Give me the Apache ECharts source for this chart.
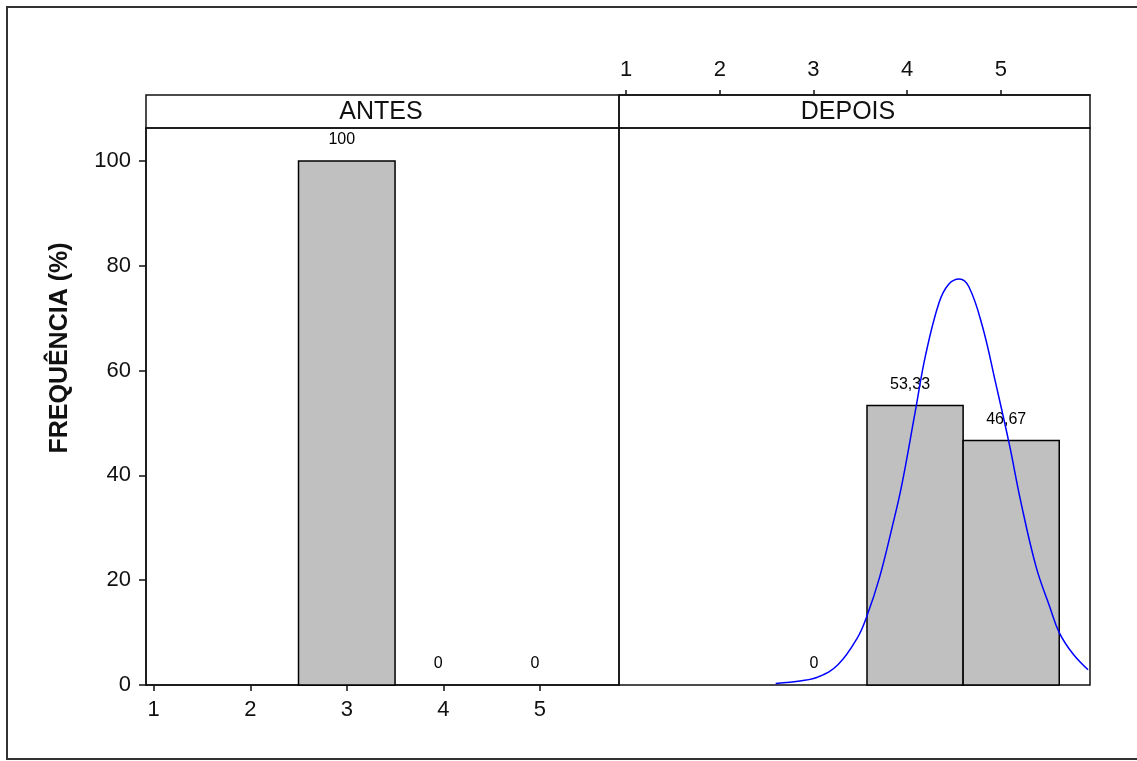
<!DOCTYPE html>
<html>
<head>
<meta charset="utf-8">
<script src="https://cdn.jsdelivr.net/npm/echarts@6/dist/echarts.min.js"></script>
<style>
html,body{margin:0;padding:0;background:#fff;}
#chart{width:1137px;height:761px;}
</style>
</head>
<body>
<div id="chart"></div>
<script>
// ---- data ----
const panelNames = ['ANTES', 'DEPOIS'];
const tickValues = [1, 2, 3, 4, 5];
const yTickValues = [0, 20, 40, 60, 80, 100];
const antesX = [3, 4, 5];
const antesY = [100, 0, 0];
const depoisX = [3, 4, 5];
const depoisY = [0, 53.33, 46.67];
// normal curve (DEPOIS)
const curveX = [2.55, 2.82, 3.0, 3.2, 3.4, 3.5, 3.63, 3.76, 3.86, 4.0, 4.11, 4.25, 4.35, 4.46, 4.56, 4.7, 4.84, 4.98, 5.1, 5.26, 5.4, 5.5, 5.64, 5.8];
const curveY = [0.3, 0.8, 1.6, 3.9, 9.0, 13.2, 20.5, 30, 38, 52, 63, 73, 76.5, 77.5, 76, 68.5, 57.5, 46, 35, 22.5, 15, 10, 6, 2.9];

const FONT = "'Liberation Sans', Arial, sans-serif";
const fmt = v => String(v).replace('.', ',');

function barRender(params, api) {
  const x = api.value(0), y = api.value(1);
  const p0 = api.coord([x - 0.5, 0]);
  const p1 = api.coord([x + 0.5, y]);
  const children = [];
  if (y > 0) {
    children.push({
      type: 'rect',
      shape: { x: p0[0], y: p1[1], width: p1[0] - p0[0], height: p0[1] - p1[1] },
      style: { fill: '#c0c0c0', stroke: '#000', lineWidth: 1.5 }
    });
  }
  children.push({
    type: 'text',
    x: (p0[0] + p1[0]) / 2 - 5,
    y: p1[1] - 21,
    style: { text: fmt(y), fill: '#000', fontSize: 16, fontFamily: FONT, align: 'center', verticalAlign: 'middle' }
  });
  return { type: 'group', children };
}

const chart = echarts.init(document.getElementById('chart'));
const axisLine = { show: true, lineStyle: { color: '#111', width: 1.5 } };
const option = {
  animation: false,
  backgroundColor: '#fff',
  grid: [
    { left: 146, top: 128, width: 473, height: 557, show: true, borderColor: '#111', borderWidth: 1.5, backgroundColor: 'transparent' },
    { left: 619, top: 128, width: 471, height: 557, show: true, borderColor: '#111', borderWidth: 1.5, backgroundColor: 'transparent' }
  ],
  xAxis: [
    {
      type: 'value', gridIndex: 0, position: 'bottom', min: 0.92, max: 5.82,
      axisLine: axisLine,
      axisTick: { show: true, length: 6, customValues: tickValues, lineStyle: { color: '#111', width: 1.5 } },
      axisLabel: { customValues: tickValues, margin: 14, fontSize: 22, color: '#111', fontFamily: FONT },
      splitLine: { show: false }
    },
    {
      type: 'value', gridIndex: 1, position: 'bottom', min: 0.92, max: 5.82,
      axisLine: { show: false }, axisTick: { show: false }, axisLabel: { show: false }, splitLine: { show: false }
    },
    {
      type: 'value', gridIndex: 1, position: 'top', offset: 33, min: 0.925, max: 5.95,
      axisLine: axisLine,
      axisTick: { show: true, length: 5, customValues: tickValues, lineStyle: { color: '#111', width: 1.5 } },
      axisLabel: { customValues: tickValues, margin: 14, fontSize: 22, color: '#111', fontFamily: FONT },
      splitLine: { show: false }
    }
  ],
  yAxis: [
    {
      type: 'value', gridIndex: 0, min: 0, max: 106.3,
      axisLine: axisLine,
      axisTick: { show: true, length: 7, customValues: yTickValues, lineStyle: { color: '#111', width: 1.5 } },
      axisLabel: { customValues: yTickValues, margin: 15, fontSize: 22, color: '#111', fontFamily: FONT },
      splitLine: { show: false }
    },
    {
      type: 'value', gridIndex: 1, min: 0, max: 106.3,
      axisLine: { show: false }, axisTick: { show: false }, axisLabel: { show: false }, splitLine: { show: false }
    }
  ],
  series: [
    {
      type: 'custom', name: panelNames[0], xAxisIndex: 0, yAxisIndex: 0,
      renderItem: barRender, data: antesX.map((x, i) => [x, antesY[i]]), z: 3
    },
    {
      type: 'custom', name: panelNames[1], xAxisIndex: 1, yAxisIndex: 1,
      renderItem: barRender, data: depoisX.map((x, i) => [x, depoisY[i]]), z: 3
    },
    {
      type: 'line', xAxisIndex: 1, yAxisIndex: 1, smooth: 0.4, symbol: 'none',
      data: curveX.map((x, i) => [x, curveY[i]]),
      lineStyle: { color: '#0000ff', width: 1.5 }, z: 4
    }
  ],
  graphic: [
    { type: 'rect', z: 0, shape: { x: 7, y: 7, width: 1150, height: 752 }, style: { fill: 'none', stroke: '#333', lineWidth: 2 } },
    { type: 'rect', z: 10, shape: { x: 146, y: 95, width: 473, height: 33 }, style: { fill: 'none', stroke: '#111', lineWidth: 1.5 } },
    { type: 'rect', z: 10, shape: { x: 619, y: 95, width: 471, height: 33 }, style: { fill: 'none', stroke: '#111', lineWidth: 1.5 } },
    { type: 'text', z: 10, x: 381, y: 112, style: { text: panelNames[0], fontSize: 25, fontFamily: FONT, fill: '#111', align: 'center', verticalAlign: 'middle' } },
    { type: 'text', z: 10, x: 848, y: 112, style: { text: panelNames[1], fontSize: 25, fontFamily: FONT, fill: '#111', align: 'center', verticalAlign: 'middle' } },
    { type: 'text', z: 10, x: 60, y: 348, rotation: Math.PI / 2, style: { text: 'FREQUÊNCIA (%)', fontSize: 25, fontWeight: 'bold', fontFamily: FONT, fill: '#111', align: 'center', verticalAlign: 'middle' } }
  ]
};
chart.setOption(option);
</script>
</body>
</html>
